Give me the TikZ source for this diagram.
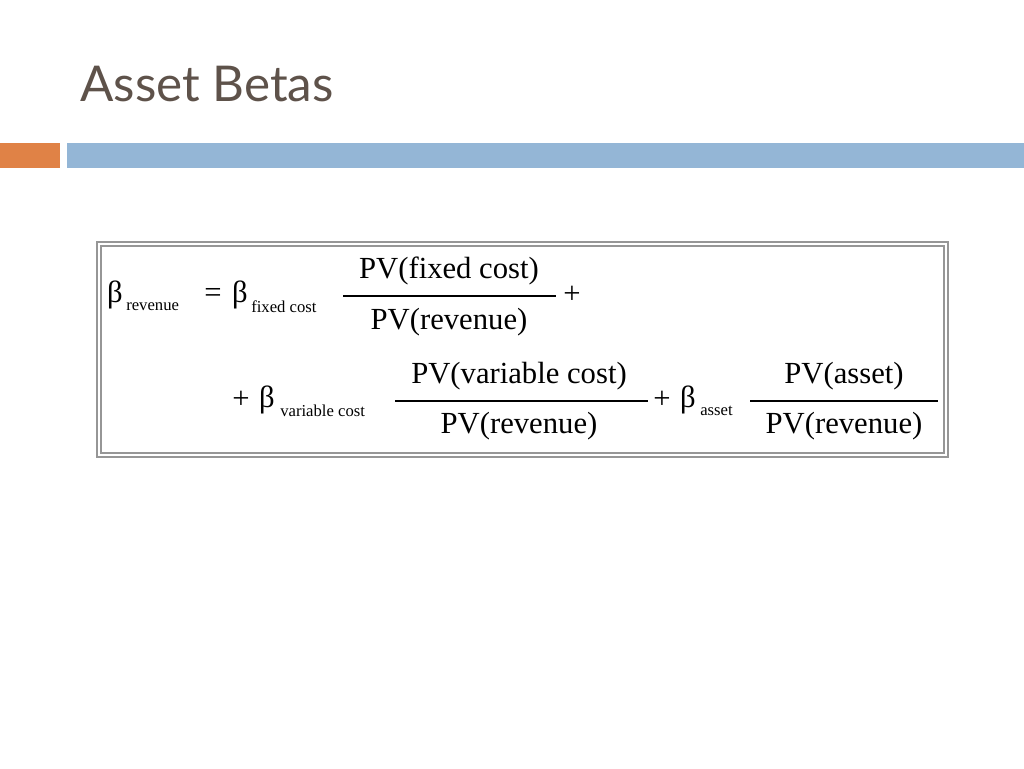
\documentclass[tikz,border=0pt]{standalone}
\usepackage{fontspec}
\setmainfont{Liberation Serif}
\newfontfamily\titlefont{Lato}
\definecolor{titlegray}{RGB}{94,82,74}
\definecolor{barorange}{RGB}{224,130,70}
\definecolor{barblue}{RGB}{148,182,214}
\definecolor{boxgray}{RGB}{150,150,150}
\tikzset{
  big/.style={inner sep=0pt,font=\fontsize{23}{26}\selectfont},
  small/.style={inner sep=0pt,font=\fontsize{12.5}{14}\selectfont},
  fracbar/.style={line width=0.9pt}
}
\begin{document}
\begin{tikzpicture}[x=0.75pt,y=-0.75pt]
        \useasboundingbox (0,0) rectangle (1024,768);
        % title and bars
        \node[anchor=west,inner sep=0pt,text=titlegray,font=\titlefont\fontsize{37}{40}\selectfont] (title) at (80,84) {Asset Betas};
        \fill[barorange] (0,143) rectangle (60,168);
        \fill[barblue] (67,143) rectangle (1024,168);

        % frame
        \draw[boxgray,line width=1pt] (97,242) rectangle (948,457);
        \draw[boxgray,line width=1pt] (101,246) rectangle (944,453);

        % first line
        \node[big] (b1) at (115,295) {β};
        \node[small,anchor=west] (s1) at (126,307) {revenue};
        \node[big] (eq) at (213,295) {=};
        \node[big] (b2) at (240,295) {β};
        \node[small,anchor=west] (s2) at (251,307) {fixed cost};
        \coordinate (f1a) at (343,296);
        \coordinate (f1b) at (556,296);
        \draw[fracbar] (f1a) -- (f1b);
        \node[big] (n1) at (449,271) {PV(fixed cost)};
        \node[big] (d1) at (449,322) {PV(revenue)};
        \node[big] (p1) at (572,295) {+};

        % second line
        \node[big] (p2) at (241,400) {+};
        \node[big] (b3) at (267,400) {β};
        \node[small,anchor=west] (s3) at (280,411) {variable cost};
        \coordinate (f2a) at (395,401);
        \coordinate (f2b) at (648,401);
        \draw[fracbar] (f2a) -- (f2b);
        \node[big] (n2) at (519,376) {PV(variable cost)};
        \node[big] (d2) at (519,426) {PV(revenue)};
        \node[big] (p3) at (662,400) {+};
        \node[big] (b4) at (688,400) {β};
        \node[small,anchor=west] (s4) at (700,411) {asset};
        \coordinate (f3a) at (750,401);
        \coordinate (f3b) at (938,401);
        \draw[fracbar] (f3a) -- (f3b);
        \node[big] (n3) at (844,376) {PV(asset)};
        \node[big] (d3) at (844,426) {PV(revenue)};
\end{tikzpicture}
\end{document}
